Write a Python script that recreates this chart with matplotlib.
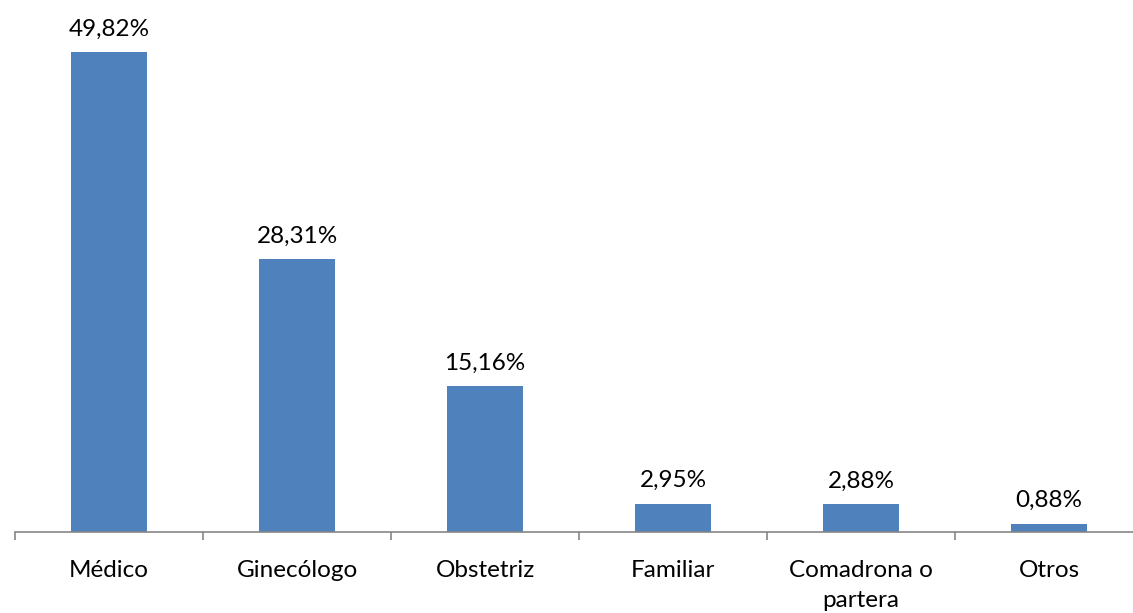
import matplotlib.pyplot as plt

categories = ["Médico", "Ginecólogo", "Obstetriz", "Familiar", "Comadrona o\npartera", "Otros"]
values = [49.82, 28.31, 15.16, 2.95, 2.88, 0.88]
value_labels = ["49,82%", "28,31%", "15,16%", "2,95%", "2,88%", "0,88%"]

plt.rcParams['font.family'] = ['Lato', 'DejaVu Sans']

fig = plt.figure(figsize=(11.33, 6.13), dpi=100)
ax = fig.add_axes([15 / 1133, 81 / 613, 1128 / 1133, 530 / 613])

x = range(len(categories))
bars = ax.bar(x, values, width=0.404, color="#4F81BD")

for b, lab in zip(bars, value_labels):
    ax.annotate(lab, (b.get_x() + b.get_width() / 2, b.get_height()),
                xytext=(0, 9), textcoords="offset points",
                ha="center", va="bottom", fontsize=17.5, color="#000000")

ax.set_xlim(-0.5, 5.5)
ax.set_ylim(0, 55)
ax.set_yticks([])
ax.set_xticks([i - 0.5 for i in range(len(categories) + 1)], minor=False)
ax.set_xticklabels([])
ax.set_xticks(list(x), minor=True)
ax.set_xticklabels(categories, minor=True, fontsize=17.5, linespacing=1.55)
ax.tick_params(axis="x", which="minor", length=0, pad=20)
ax.tick_params(axis="x", which="major", direction="out", length=6, color="#868686", width=1.2)

for s in ["top", "right", "left"]:
    ax.spines[s].set_visible(False)
ax.spines["bottom"].set_color("#868686")
ax.spines["bottom"].set_linewidth(1.2)

fig.savefig("out.png", dpi=100)
